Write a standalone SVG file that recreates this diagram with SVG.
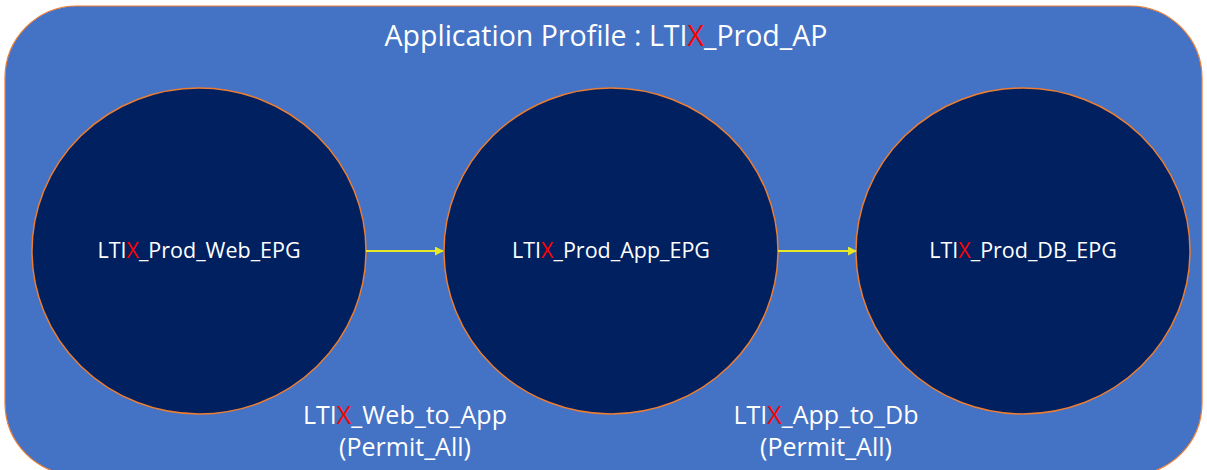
<svg xmlns="http://www.w3.org/2000/svg" width="1207" height="470" viewBox="0 0 1207 470">
  <defs>
    <style>
      .frame { fill: #4472C4; stroke: #ED7D31; stroke-width: 1.2; }
      .epg { fill: #002060; stroke: #ED7D31; stroke-width: 1.5; }
      .t { font-family: "Open Sans", Lato, sans-serif; fill: #FFFFFF; text-anchor: middle; }
      .x { fill: #FF0000; }
      .conn { stroke: #E8E82A; stroke-width: 2; fill: none; marker-end: url(#arr); }
    </style>
    <marker id="arr" viewBox="0 0 10 10" refX="9" refY="5" markerWidth="4.5" markerHeight="4.5" orient="auto" markerUnits="strokeWidth">
      <path d="M0,0 L10,5 L0,10 Z" fill="#E8E82A"/>
    </marker>
  </defs>
  <rect width="1207" height="470" fill="#FFFFFF"/>
  <g id="app-profile">
    <rect class="frame" x="5" y="6" width="1197" height="469" rx="72" ry="72"/>
    <text class="t" x="606" y="46" font-size="28.5">Application Profile : LTI<tspan class="x">X</tspan>_Prod_AP</text>
  </g>
  <g id="web-epg">
    <ellipse class="epg" cx="199" cy="251" rx="167" ry="163"/>
    <text class="t" x="199" y="258" font-size="21.5">LTI<tspan class="x">X</tspan>_Prod_Web_EPG</text>
  </g>
  <g id="app-epg">
    <ellipse class="epg" cx="611" cy="251" rx="167" ry="163"/>
    <text class="t" x="611" y="258" font-size="21.5">LTI<tspan class="x">X</tspan>_Prod_App_EPG</text>
  </g>
  <g id="db-epg">
    <ellipse class="epg" cx="1023" cy="251" rx="167" ry="163"/>
    <text class="t" x="1023" y="258" font-size="21.5">LTI<tspan class="x">X</tspan>_Prod_DB_EPG</text>
  </g>
  <g id="connectors">
    <line class="conn" x1="366" y1="251" x2="443" y2="251"/>
    <line class="conn" x1="778" y1="251" x2="856" y2="251"/>
  </g>
  <g id="contract-web-app">
    <text class="t" x="405" y="424" font-size="25">LTI<tspan class="x">X</tspan>_Web_to_App</text>
    <text class="t" x="405" y="456" font-size="25">(Permit_All)</text>
  </g>
  <g id="contract-app-db">
    <text class="t" x="826" y="424" font-size="25">LTI<tspan class="x">X</tspan>_App_to_Db</text>
    <text class="t" x="826" y="456" font-size="25">(Permit_All)</text>
  </g>
</svg>
